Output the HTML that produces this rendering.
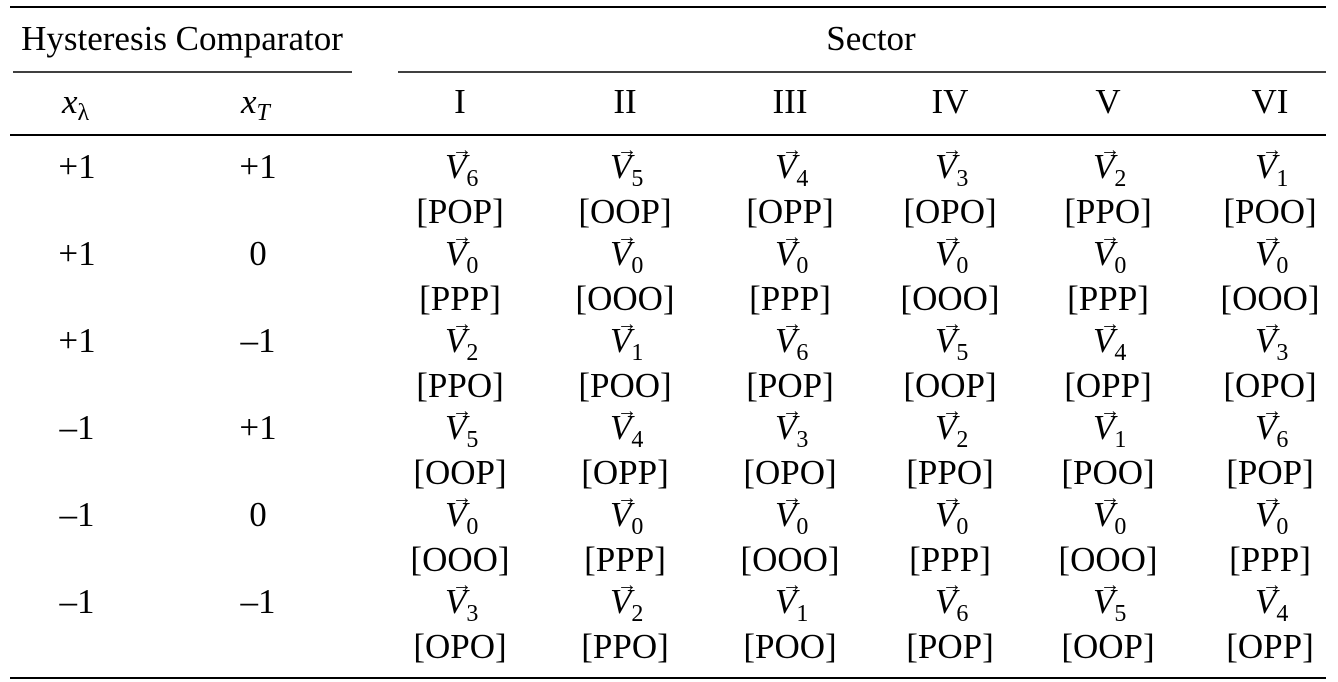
<!DOCTYPE html>
<html><head><meta charset="utf-8"><style>
html,body{margin:0;padding:0;background:#fff;}
svg{display:block;font-family:"Liberation Serif","Times New Roman",serif;}
</style></head><body>
<svg id="t" width="1338" height="682" viewBox="0 0 1338 682">
<line x1="10" y1="7" x2="1326" y2="7" stroke="#000" stroke-width="2"/>
<line x1="13" y1="72" x2="352" y2="72" stroke="#000" stroke-width="1.5"/>
<line x1="398" y1="72" x2="1326" y2="72" stroke="#000" stroke-width="1.5"/>
<line x1="10" y1="135" x2="1326" y2="135" stroke="#000" stroke-width="2"/>
<line x1="10" y1="678" x2="1326" y2="678" stroke="#000" stroke-width="2"/>
<text x="182" y="50" font-size="35" text-anchor="middle">Hysteresis Comparator</text>
<text x="871" y="50" font-size="35" text-anchor="middle">Sector</text>
<text x="62" y="113" font-size="35" font-style="italic">x<tspan font-size="24" dy="7" font-style="normal">λ</tspan></text>
<text x="241" y="113" font-size="35" font-style="italic">x<tspan font-size="24" dy="7">T</tspan></text>
</svg>
<script>
const sectors = ["I","II","III","IV","V","VI"];
const xLambda = ["+1","+1","+1","\u20131","\u20131","\u20131"];
const xT = ["+1","0","\u20131","+1","0","\u20131"];
const vecIdx = [[6,5,4,3,2,1],[0,0,0,0,0,0],[2,1,6,5,4,3],[5,4,3,2,1,6],[0,0,0,0,0,0],[3,2,1,6,5,4]];
const states = [["POP","OOP","OPP","OPO","PPO","POO"],["PPP","OOO","PPP","OOO","PPP","OOO"],["PPO","POO","POP","OOP","OPP","OPO"],["OOP","OPP","OPO","PPO","POO","POP"],["OOO","PPP","OOO","PPP","OOO","PPP"],["OPO","PPO","POO","POP","OOP","OPP"]];
const colX = [460,625,790,950,1108,1270];
const svg = document.getElementById('t');
const NS = "http://www.w3.org/2000/svg";
function txt(x,y,s,size,anchor){
  const t=document.createElementNS(NS,'text');
  t.setAttribute('x',x);t.setAttribute('y',y);t.setAttribute('font-size',size);
  t.setAttribute('text-anchor',anchor||'middle');t.textContent=s;svg.appendChild(t);return t;
}
sectors.forEach((s,i)=>{
  const t=txt(colX[i],113,s,35);
  
  
});
for(let r=0;r<6;r++){
  const B=178+r*87;
  const a=txt(77,B,xLambda[r],35);
  
  
  const b=txt(258,B,xT[r],35);
  
  
  for(let c=0;c<6;c++){
    const x=colX[c];
    const v=txt(x-15,B,'V',35,'start');
    v.setAttribute('font-style','italic');
    
    
    const sub=document.createElementNS(NS,'tspan');
    sub.setAttribute('font-size','24');sub.setAttribute('dy','8');sub.setAttribute('font-style','normal');
    sub.textContent=vecIdx[r][c];v.appendChild(sub);
    const ar=txt(x-8,B-22,'\u2192',20,'start');
    
    
    const st=txt(x,B+45,'['+states[r][c]+']',35);
    
    
  }
}
</script>
</body></html>
